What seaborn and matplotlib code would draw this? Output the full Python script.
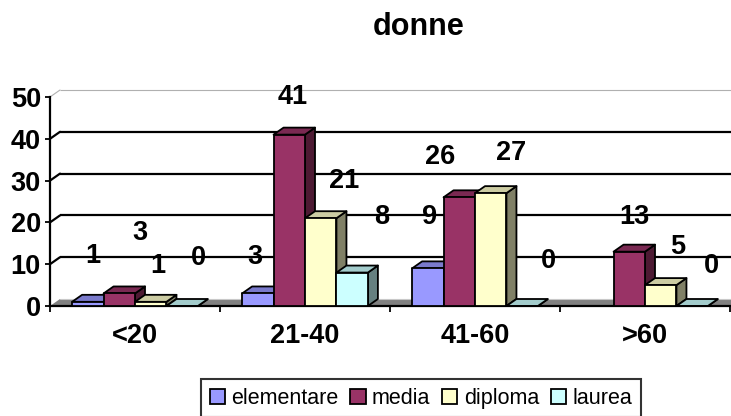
import numpy as np
import pandas as pd
import seaborn as sns
import matplotlib.pyplot as plt
import matplotlib.colors as mcolors
from matplotlib.patches import Polygon, Patch

# ---- data -------------------------------------------------------------
age_groups = ["<20", "21-40", "41-60", ">60"]
education = ["elementare", "media", "diploma", "laurea"]
elementare = [1, 3, 9, np.nan]
media = [3, 41, 26, 13]
diploma = [1, 21, 27, 5]
laurea = [0, 8, 0, 0]
y_ticks = [0, 10, 20, 30, 40, 50]
title = "donne"

colors = ["#9999FF", "#993366", "#FFFFCC", "#CCFFFF"]

# value-label placement: horizontal shift (px) and lift (value units)
label_dx = [[5, 21, 7, 16], [-3, 3, 23, 30], [2, -19, 20, 26], [0, 5, 17, 19]]
label_dy = [[11, 14.5, 8.5, 11.5], [8.7, 9, 9, 13.3], [12.3, 9.6, 9.6, 10.8],
            [10, 8.3, 9, 9.6]]

series = {"elementare": elementare, "media": media,
          "diploma": diploma, "laurea": laurea}
df = pd.DataFrame([
    {"eta": g, "titolo": name, "n": vals[i]}
    for name, vals in series.items() for i, g in enumerate(age_groups)
])

# ---- figure -------------------------------------------------------------
sns.set_style("white")
plt.rcParams["font.family"] = ["Liberation Sans", "DejaVu Sans"]
plt.rcParams.update({"text.color": "black", "axes.labelcolor": "black",
                     "xtick.color": "black", "ytick.color": "black"})

W, H = 731, 416
fig = plt.figure(figsize=(W / 100, H / 100), dpi=100)
x0, x1, y0, y1 = 50, 730, 306, 97          # plot frame in pixels
ax = fig.add_axes([x0 / W, (H - y0) / H, (x1 - x0) / W, (y0 - y1) / H])

sns.barplot(data=df, x="eta", y="n", hue="titolo", order=age_groups,
            hue_order=education, palette=colors, saturation=1, width=0.74,
            edgecolor="black", linewidth=1.3, errorbar=None, legend=False,
            ax=ax)

ax.set_xlim(-0.5, 3.5)
ax.set_ylim(0, 50)

# depth of the oblique projection, in data units
px_x = (x1 - x0) / 4.0
px_y = (y0 - y1) / 50.0
ddx = 10 / px_x
ddy = 7 / px_y

# back wall grid and the slanted lines on the side wall
for v in y_ticks[1:]:
    col, lw = ("black", 1.6) if v < 50 else ("#b0b0b0", 0.8)
    ax.plot([-0.5 + ddx, 3.5 + ddx], [v + ddy, v + ddy], color=col, lw=lw,
            clip_on=False, zorder=1, solid_capstyle="butt")
    ax.plot([-0.5, -0.5 + ddx], [v, v + ddy], color=col, lw=lw,
            clip_on=False, zorder=1)

# floor
ax.add_patch(Polygon([(-0.5, 0), (3.5, 0), (3.5 + ddx, ddy), (-0.5 + ddx, ddy)],
                     closed=True, facecolor="#808080", edgecolor="none",
                     clip_on=False, zorder=1.5))
ax.plot([-0.5 + ddx, 3.5 + ddx], [ddy, ddy], color="#c8c8c8", lw=0.8,
        clip_on=False, zorder=1.6)

# 3-D faces for every bar, drawn left to right so later bars cover earlier sides
bars = []
for hi, cont in enumerate(ax.containers):
    for rect in cont.patches:
        h = rect.get_height()
        if h is None or np.isnan(h):
            continue
        bars.append((rect.get_x(), hi, rect))
bars.sort(key=lambda b: b[0])

for k, (bx, hi, rect) in enumerate(bars):
    z = 3 + k * 0.01
    w = rect.get_width()
    h = rect.get_height()
    base = np.array(mcolors.to_rgb(colors[hi]))
    side = Polygon([(bx + w, 0), (bx + w + ddx, ddy), (bx + w + ddx, h + ddy),
                    (bx + w, h)], closed=True, facecolor=base * 0.5,
                   edgecolor="black", lw=1.3, zorder=z, joinstyle="round")
    top = Polygon([(bx, h), (bx + w, h), (bx + w + ddx, h + ddy),
                   (bx + ddx, h + ddy)], closed=True, facecolor=base * 0.8,
                  edgecolor="black", lw=1.3, zorder=z, joinstyle="round")
    ax.add_patch(side)
    ax.add_patch(top)
    rect.set_zorder(z + 0.001)
    rect.set_joinstyle("round")

    ci = int(round(bx + w / 2))
    cx = bx + w / 2 + label_dx[ci][hi] / px_x
    ax.text(cx, h + label_dy[ci][hi], f"{int(h)}", ha="center", va="center",
            fontsize=19.5, fontweight="bold", zorder=10, clip_on=False)

# axes
for s in ["top", "right"]:
    ax.spines[s].set_visible(False)
for s in ["left", "bottom"]:
    ax.spines[s].set_color("black")
    ax.spines[s].set_linewidth(1.6)
    ax.spines[s].set_zorder(2)
ax.set_yticks(y_ticks)
ax.set_yticklabels([str(v) for v in y_ticks])
ax.set_xticks(range(len(age_groups)))
ax.set_xticklabels(age_groups)
ax.set_xticks([-0.5, 0.5, 1.5, 2.5, 3.5], minor=True)
ax.tick_params(axis="y", direction="out", length=3.5, width=1.3, pad=3,
               labelsize=19.5, left=True, color="black")
ax.tick_params(axis="x", which="major", length=0, pad=12, labelsize=19.5)
ax.tick_params(axis="x", which="minor", direction="out", length=4, width=1.3,
               bottom=True, color="black")
for lbl in ax.get_xticklabels() + ax.get_yticklabels():
    lbl.set_fontweight("bold")
ax.set_xlabel("")
ax.set_ylabel("")
ax.grid(False)
ax.patch.set_alpha(0)

fig.text(419 / W, 1 - 27 / H, title, ha="center", va="center",
         fontsize=22, fontweight="bold")

handles = [Patch(facecolor=c, edgecolor="black", linewidth=1.3) for c in colors]
leg = fig.legend(handles, education, loc="upper center",
                 bbox_to_anchor=(421 / W, 1 - 379 / H), ncol=4, fontsize=15.5,
                 frameon=True, fancybox=False, handlelength=0.7,
                 handleheight=0.7, handletextpad=0.3, columnspacing=0.55,
                 borderpad=0.4, borderaxespad=0)
leg.get_frame().set_edgecolor("black")
leg.get_frame().set_linewidth(1.5)

fig.savefig("out.png", dpi=100)
